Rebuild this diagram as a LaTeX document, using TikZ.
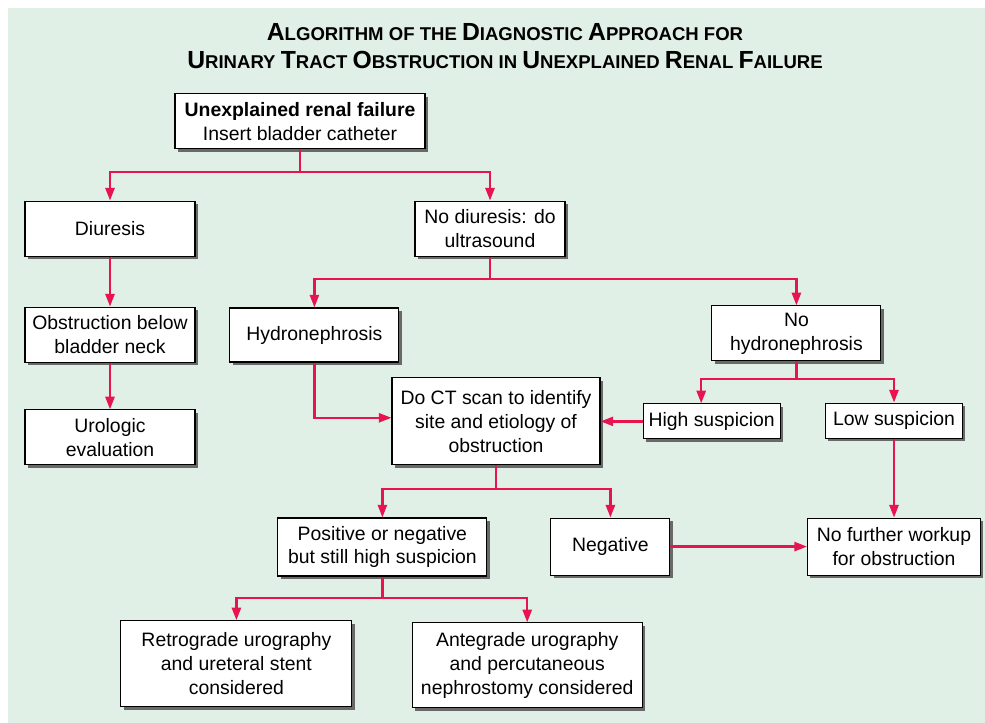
\documentclass[tikz,border=0pt]{standalone}
\usepackage{fontspec}
\setmainfont{Liberation Sans}
\usetikzlibrary{arrows.meta,shadows}
\definecolor{flowred}{RGB}{232,20,80}
\definecolor{panelgreen}{RGB}{224,240,230}
\definecolor{shadowgray}{RGB}{105,105,105}
\newcommand{\bigc}[1]{{\fontsize{17.6}{20}\selectfont #1}}

\begin{document}
\begin{tikzpicture}[
  box/.style={draw=black,line width=0.8pt,fill=white,align=center,inner sep=2pt,
    font=\fontsize{13.8}{17}\selectfont,
    drop shadow={shadow xshift=2pt,shadow yshift=-2pt,fill=shadowgray,opacity=1}},
  flow/.style={draw=flowred,line width=1.6pt,-{Triangle[length=9pt,width=6.5pt]}}]
  \useasboundingbox (0,0) rectangle (24.625,18.075);
  \fill[panelgreen] (0.2,0) rectangle (24.625,17.875);

  \node[align=center,font=\bfseries\fontsize{13.2}{20}\selectfont] (title) at (12.625,16.92)
    {\bigc{A}LGORITHM OF THE \bigc{D}IAGNOSTIC \bigc{A}PPROACH FOR\\
     \bigc{U}RINARY \bigc{T}RACT \bigc{O}BSTRUCTION IN \bigc{U}NEXPLAINED \bigc{R}ENAL \bigc{F}AILURE};

  \node[box,minimum width=6.25cm,minimum height=1.375cm] (fail) at (7.50,15.04)
    {\textbf{Unexplained renal failure}\\Insert bladder catheter};
  \node[box,minimum width=4.25cm,minimum height=1.375cm] (diur) at (2.75,12.36) {Diuresis};
  \node[box,minimum width=3.75cm,minimum height=1.375cm] (nodiur) at (12.25,12.36)
    {No diuresis: do\\ultrasound};
  \node[box,minimum width=4.25cm,minimum height=1.375cm] (below) at (2.75,9.71)
    {Obstruction below\\bladder neck};
  \node[box,minimum width=4.25cm,minimum height=1.375cm] (urol) at (2.75,7.14)
    {Urologic\\evaluation};
  \node[box,minimum width=4.225cm,minimum height=1.35cm] (hyd) at (7.86,9.70) {Hydronephrosis};
  \node[box,minimum width=4.225cm,minimum height=1.375cm] (nohyd) at (19.91,9.74)
    {No\\hydronephrosis};
  \node[box,minimum width=5.2cm,minimum height=2.175cm] (ct) at (12.40,7.54)
    {Do CT scan to identify\\site and etiology of\\obstruction};
  \node[box,minimum width=3.425cm,minimum height=0.875cm] (high) at (17.79,7.54) {High suspicion};
  \node[box,minimum width=3.425cm,minimum height=0.875cm] (low) at (22.35,7.56) {Low suspicion};
  \node[box,minimum width=5.225cm,minimum height=1.45cm] (pos) at (9.56,4.40)
    {Positive or negative\\but still high suspicion};
  \node[box,minimum width=2.975cm,minimum height=1.425cm] (neg) at (15.26,4.41) {Negative};
  \node[box,minimum width=4.325cm,minimum height=1.425cm] (nofur) at (22.35,4.41)
    {No further workup\\for obstruction};
  \node[box,minimum width=5.775cm,minimum height=2.15cm] (retro) at (5.91,1.48)
    {Retrograde urography\\and ureteral stent\\considered};
  \node[box,minimum width=5.75cm,minimum height=2.125cm] (ante) at (13.18,1.44)
    {Antegrade urography\\and percutaneous\\nephrostomy considered};

  \coordinate (s1) at (7.50,13.775);
  \coordinate (s2) at (12.25,11.1);
  \coordinate (s3) at (19.91,8.6);
  \coordinate (s4) at (12.40,5.85);
  \coordinate (s5) at (9.56,3.125);

  \draw[flow] (fail) -- (s1) -| (diur);
  \draw[flow] (s1) -| (nodiur);
  \draw[flow] (diur) -- (below);
  \draw[flow] (below) -- (urol);
  \draw[flow] (nodiur) -- (s2) -| (hyd);
  \draw[flow] (s2) -| (nohyd);
  \draw[flow] (hyd) |- ([yshift=0.09cm]ct.west);
  \draw[flow] (nohyd) -- (s3) -| ([xshift=-0.26cm]high.north);
  \draw[flow] (s3) -| (low);
  \draw[flow] (high) -- (ct);
  \draw[flow] (low) -- (nofur);
  \draw[flow] (ct) -- (s4) -| (pos);
  \draw[flow] (s4) -| (neg);
  \draw[flow] (neg) -- (nofur);
  \draw[flow] (pos) -- (s5) -| (retro);
  \draw[flow] (s5) -| (ante);
\end{tikzpicture}
\end{document}
